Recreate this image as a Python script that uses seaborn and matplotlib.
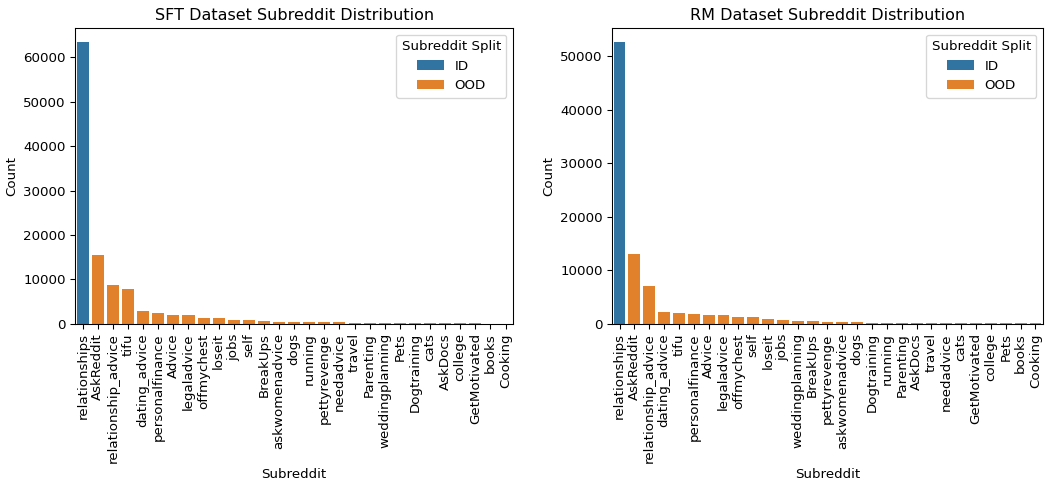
import pandas as pd
import matplotlib.pyplot as plt
import seaborn as sns

sft_subreddits = ["relationships", "AskReddit", "relationship_advice", "tifu", "dating_advice",
                  "personalfinance", "Advice", "legaladvice", "offmychest", "loseit", "jobs",
                  "self", "BreakUps", "askwomenadvice", "dogs", "running", "pettyrevenge",
                  "needadvice", "travel", "Parenting", "weddingplanning", "Pets", "Dogtraining",
                  "cats", "AskDocs", "college", "GetMotivated", "books", "Cooking"]
sft_counts = [63400, 15500, 8700, 7800, 2800, 2350, 2100, 1900, 1430, 1430, 980,
              950, 750, 520, 520, 520, 520, 500, 300, 300, 300, 300, 300,
              300, 300, 300, 100, 90, 80]

rm_subreddits = ["relationships", "AskReddit", "relationship_advice", "dating_advice", "tifu",
                 "personalfinance", "Advice", "legaladvice", "offmychest", "self", "loseit",
                 "jobs", "weddingplanning", "BreakUps", "pettyrevenge", "askwomenadvice", "dogs",
                 "Dogtraining", "running", "Parenting", "AskDocs", "travel", "needadvice",
                 "cats", "GetMotivated", "college", "Pets", "books", "Cooking"]
rm_counts = [52600, 13000, 7000, 2300, 1950, 1900, 1750, 1750, 1370, 1370, 1000,
             800, 620, 620, 430, 430, 430, 250, 250, 250, 250, 250, 250,
             250, 250, 250, 100, 90, 80]

id_subreddits = ["relationships"]
split_colors = {"ID": "#3274a1", "OOD": "#e1812c"}

sft_df = pd.DataFrame({"subreddit": sft_subreddits, "count": sft_counts})
rm_df = pd.DataFrame({"subreddit": rm_subreddits, "count": rm_counts})
for df in (sft_df, rm_df):
    df["split"] = ["ID" if s in id_subreddits else "OOD" for s in df["subreddit"]]

fig, axs = plt.subplots(1, 2, figsize=(1045 / 96, 482 / 96), dpi=96,
                        gridspec_kw={"width_ratios": [438, 431]})
fig.subplots_adjust(left=0.072, right=0.998, top=0.942, bottom=0.328, wspace=0.228)

panels = [(sft_df, "SFT Dataset Subreddit Distribution"),
          (rm_df, "RM Dataset Subreddit Distribution")]
for ax, (df, title) in zip(axs, panels):
    sns.barplot(data=df, x="subreddit", y="count", hue="split",
                hue_order=["ID", "OOD"], palette=split_colors, saturation=1,
                dodge=False, ax=ax)
    ax.set_title(title, fontsize=12)
    ax.set_xlabel("Subreddit")
    ax.set_ylabel("Count")
    ax.tick_params(axis="x", rotation=90)
    ax.legend(title="Subreddit Split", loc="upper right")

fig.savefig("out.png", dpi=96)
